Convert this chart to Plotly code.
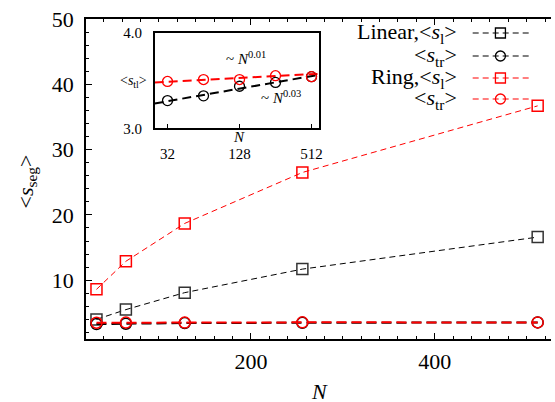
import plotly.graph_objects as go

# ---- data ----
N = [32, 64, 128, 256, 512]
lin_sl = [4.0, 5.5, 8.1, 11.7, 16.6]
ring_sl = [8.6, 12.9, 18.7, 26.5, 36.7]
lin_str = [3.29, 3.34, 3.44, 3.48, 3.54]
ring_str = [3.49, 3.51, 3.51, 3.55, 3.54]
fit_N = [25, 592]
fit_lin = [3.26, 3.56]
fit_ring = [3.48, 3.57]
x_ticks = [200, 400]
y_ticks = [10, 20, 30, 40, 50]
inset_x_ticks = [32, 128, 512]
inset_y_ticks = [3.0, 4.0]
legend_labels = ["Linear,&lt;<i>s</i><sub>l</sub>&gt;", "&lt;<i>s</i><sub>tr</sub>&gt;",
                 "Ring,&lt;<i>s</i><sub>l</sub>&gt;", "&lt;<i>s</i><sub>tr</sub>&gt;"]

BLACK = "#000000"
RED = "#ff0000"
FONT = "Liberation Serif"

W, H = 555, 402
L, R, T, B = 86, 0, 19, 63
pw = W - L - R
ph = H - T - B

def px(x):
    return (x - L) / pw

def py(y):
    return (H - B - y) / ph

fig = go.Figure()

# main traces
fig.add_trace(go.Scatter(x=N, y=lin_sl, mode="lines+markers", cliponaxis=False,
                         line=dict(color=BLACK, width=1, dash="6px,4px"),
                         marker=dict(symbol="square-open", size=11, color="#333333", line=dict(width=1.5))))
fig.add_trace(go.Scatter(x=N, y=lin_str, mode="lines+markers", cliponaxis=False,
                         line=dict(color=BLACK, width=2, dash="10px,5px"),
                         marker=dict(symbol="circle-open", size=11, color=BLACK, line=dict(width=1.5))))
fig.add_trace(go.Scatter(x=N, y=ring_sl, mode="lines+markers", cliponaxis=False,
                         line=dict(color=RED, width=1, dash="6px,4px"),
                         marker=dict(symbol="square-open", size=11, color=RED, line=dict(width=1.5))))
fig.add_trace(go.Scatter(x=N, y=ring_str, mode="lines+markers", cliponaxis=False,
                         line=dict(color=RED, width=2, dash="10px,5px"),
                         marker=dict(symbol="circle-open", size=11, color=RED, line=dict(width=1.5))))

# inset traces
fig.add_trace(go.Scatter(x=fit_N, y=fit_lin, mode="lines", xaxis="x2", yaxis="y2",
                         line=dict(color=BLACK, width=2, dash="9px,5px")))
fig.add_trace(go.Scatter(x=fit_N, y=fit_ring, mode="lines", xaxis="x2", yaxis="y2",
                         line=dict(color=RED, width=2, dash="9px,5px")))
fig.add_trace(go.Scatter(x=N, y=lin_str, mode="markers", xaxis="x2", yaxis="y2",
                         marker=dict(symbol="circle-open", size=10, color=BLACK, line=dict(width=1.3))))
fig.add_trace(go.Scatter(x=N, y=ring_str, mode="markers", xaxis="x2", yaxis="y2",
                         marker=dict(symbol="circle-open", size=10, color=RED, line=dict(width=1.3))))

tickfont = dict(family=FONT, size=22, color=BLACK)
inset_font = dict(family=FONT, size=15, color=BLACK)

shapes = []
annotations = []

# manual legend (text left of the sample, as in the reference)
rows_y = [33, 56, 78, 99]
colors = [BLACK, BLACK, RED, RED]
symbols = ["rect", "circle", "rect", "circle"]
for lab, yy, col, sym in zip(legend_labels, rows_y, colors, symbols):
    annotations.append(dict(x=px(462), y=py(yy), xref="paper", yref="paper", text=lab,
                            showarrow=False, xanchor="right", yanchor="middle",
                            font=dict(family=FONT, size=22, color=BLACK)))
    shapes.append(dict(type="line", xref="paper", yref="paper", x0=px(476), x1=px(533),
                       y0=py(yy), y1=py(yy), line=dict(color=col, width=1.2, dash="6px,4px")))
    shapes.append(dict(type=sym, xref="paper", yref="paper", xsizemode="pixel", ysizemode="pixel",
                       xanchor=px(504), yanchor=py(yy), x0=-5, x1=5, y0=-5, y1=5,
                       line=dict(color=col, width=1.3)))

def ann(x, y, text, font, xanchor="center", angle=0):
    return dict(x=px(x), y=py(y), xref="paper", yref="paper", showarrow=False,
                xanchor=xanchor, yanchor="middle", text=text, font=font, textangle=angle)

annotations += [
    ann(247, 58, "~ <i>N</i><sup>0.01</sup>", inset_font),
    ann(283, 97, "~ <i>N</i><sup>0.03</sup>", inset_font),
    ann(240.7, 137, "<i>N</i>", inset_font),
    ann(150, 81, "&lt;<i>s</i><sub>tl</sub>&gt;", dict(family=FONT, size=14, color=BLACK), xanchor="right"),
    ann(26, 182, "&lt;<i>s</i><sub>seg</sub>&gt;", dict(family=FONT, size=22, color=BLACK), angle=-90),
    ann(321.7, 391, "<i>N</i>", dict(family=FONT, size=22, color=BLACK)),
]

fig.update_layout(
    width=W, height=H,
    margin=dict(l=L, r=R, t=T, b=B),
    paper_bgcolor="white", plot_bgcolor="white",
    showlegend=False,
    font=dict(family=FONT, color=BLACK),
    xaxis=dict(range=[20.6, 526.5], tickvals=x_ticks, ticks="inside", ticklen=6, tickwidth=1,
               tickcolor=BLACK, showline=True, linecolor=BLACK, linewidth=1.5, mirror="ticks",
               showgrid=False, zeroline=False, tickfont=tickfont, ticklabelstandoff=2,
               minor=dict(dtick=20, tick0=0, ticks="inside", ticklen=3, tickcolor=BLACK, showgrid=False),
               domain=[0, 1]),
    yaxis=dict(range=[1, 50], tickvals=y_ticks, ticks="inside", ticklen=6, tickwidth=1,
               tickcolor=BLACK, showline=True, linecolor=BLACK, linewidth=1.5, mirror=False,
               showgrid=False, zeroline=False, tickfont=tickfont, ticklabelstandoff=6,
               minor=dict(dtick=2, tick0=0, ticks="inside", ticklen=3, tickcolor=BLACK, showgrid=False),
               domain=[0, 1]),
    xaxis2=dict(type="log", range=[1.398, 2.772], tickvals=inset_x_ticks,
                ticktext=[str(v) for v in inset_x_ticks], ticks="inside", ticklen=5,
                tickcolor=BLACK, showline=True, linecolor=BLACK, linewidth=1.5, mirror=True,
                showgrid=False, zeroline=False, tickfont=inset_font, ticklabelstandoff=11,
                anchor="y2", domain=[px(155.3), px(321)]),
    yaxis2=dict(range=[3.0, 4.0], tickvals=inset_y_ticks, ticktext=["3.0", "4.0"],
                ticks="inside", ticklen=5, tickcolor=BLACK, showline=True, linecolor=BLACK,
                linewidth=1.5, mirror=True, showgrid=False, zeroline=False, tickfont=inset_font,
                ticklabelstandoff=8, anchor="x2", domain=[py(128.3), py(32.7)]),
    shapes=shapes,
    annotations=annotations,
)

fig.write_html("out.html", config={"displayModeBar": False},
               post_script="document.body.style.margin='0px';document.body.style.overflow='hidden';")
